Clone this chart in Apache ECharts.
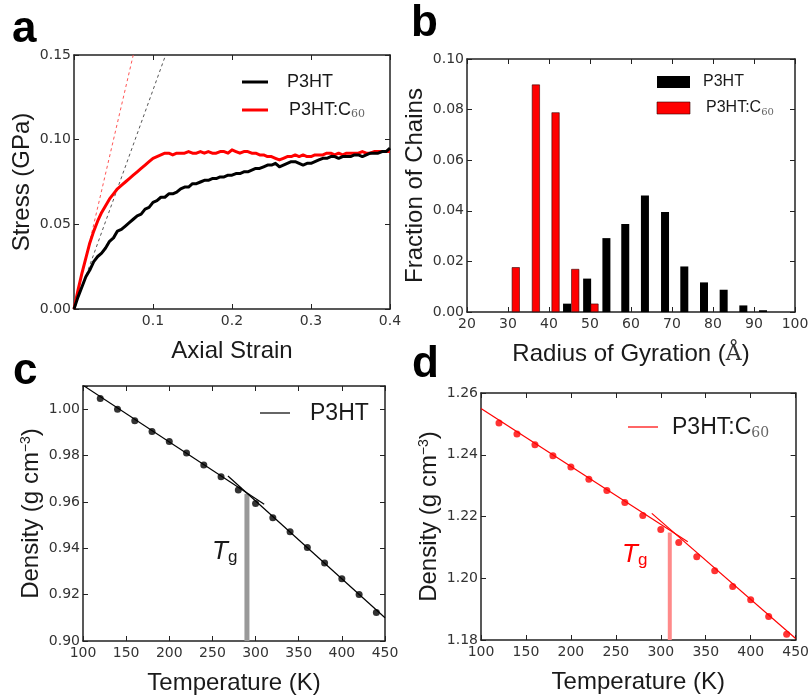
<!DOCTYPE html>
<html>
<head>
<meta charset="utf-8">
<script src="https://cdn.jsdelivr.net/npm/echarts@6/dist/echarts.min.js"></script>
<style>html,body{margin:0;padding:0;background:#fff}#c{width:812px;height:696px}</style>
</head>
<body>
<div id="c"></div>
<script>
// ---- Panel a: stress-strain ----
const strain = [0,0.005,0.01,0.015,0.02,0.025,0.03,0.035,0.04,0.045,0.05,0.055,0.06,0.065,0.07,0.075,0.08,0.085,0.09,0.095,0.10,0.105,0.11,0.115,0.12,0.125,0.13,0.135,0.14,0.145,0.15,0.155,0.16,0.165,0.17,0.175,0.18,0.185,0.19,0.195,0.20,0.205,0.21,0.215,0.22,0.225,0.23,0.235,0.24,0.245,0.25,0.255,0.26,0.265,0.27,0.275,0.28,0.285,0.29,0.295,0.30,0.305,0.31,0.315,0.32,0.325,0.33,0.335,0.34,0.345,0.35,0.355,0.36,0.365,0.37,0.375,0.38,0.385,0.39,0.395,0.40];
const stressP3HT = [0,0.007,0.013,0.019,0.023,0.028,0.031,0.033,0.036,0.040,0.042,0.046,0.047,0.049,0.051,0.053,0.055,0.056,0.059,0.060,0.063,0.064,0.066,0.066,0.068,0.068,0.069,0.071,0.072,0.072,0.074,0.074,0.075,0.076,0.076,0.077,0.077,0.078,0.078,0.079,0.079,0.080,0.080,0.081,0.081,0.082,0.083,0.083,0.084,0.085,0.085,0.086,0.084,0.085,0.086,0.087,0.087,0.086,0.085,0.086,0.086,0.087,0.088,0.089,0.089,0.090,0.090,0.089,0.090,0.090,0.090,0.091,0.091,0.090,0.091,0.092,0.092,0.092,0.093,0.093,0.095];
const stressC60 = [0,0.011,0.021,0.030,0.039,0.046,0.052,0.057,0.061,0.065,0.068,0.071,0.073,0.075,0.077,0.079,0.081,0.083,0.085,0.087,0.089,0.090,0.091,0.092,0.092,0.091,0.092,0.092,0.092,0.093,0.092,0.092,0.093,0.092,0.093,0.092,0.092,0.093,0.093,0.092,0.094,0.093,0.092,0.093,0.093,0.092,0.092,0.091,0.091,0.090,0.090,0.089,0.088,0.089,0.090,0.090,0.091,0.090,0.091,0.090,0.090,0.091,0.091,0.091,0.092,0.092,0.091,0.092,0.091,0.092,0.092,0.092,0.092,0.093,0.092,0.092,0.093,0.093,0.093,0.093,0.093];
const slopeLineP3HT = [[0,0],[0.116,0.15]];
const slopeLineC60 = [[0,0],[0.075,0.15]];

// ---- Panel b: radius of gyration histogram ----
const rgP3HT = [44.4,49.3,54.0,58.6,63.4,68.3,73.0,77.8,82.6,87.4,92.2];
const fracP3HT = [0.0033,0.0132,0.0292,0.0348,0.046,0.0395,0.018,0.0117,0.0088,0.0026,0.0007];
const rgC60 = [31.9,36.8,41.6,46.4,51.1];
const fracC60 = [0.0177,0.0899,0.0789,0.017,0.0033];

// ---- Panels c, d: density vs temperature ----
const temps = [120,140,160,180,200,220,240,260,280,300,320,340,360,380,400,420,440];
const densP3HT = [1.0046,1.0000,0.9950,0.9904,0.9861,0.9811,0.9759,0.9709,0.9651,0.9593,0.9532,0.9471,0.9403,0.9337,0.9268,0.9201,0.9123];
const densC60 = [1.2503,1.2467,1.2432,1.2397,1.2360,1.2321,1.2284,1.2245,1.2203,1.2158,1.2116,1.2070,1.2024,1.1973,1.1930,1.1876,1.1819];
const fitGlassP3HT = [[100,1.0103],[310,0.9590]];
const fitRubberP3HT = [[268,0.9712],[450,0.9100]];
const fitGlassC60 = [[100,1.2550],[330,1.2118]];
const fitRubberC60 = [[290,1.2210],[450,1.1805]];
const tgP3HT = 290, tgP3HTTop = 0.9635;
const tgC60 = 310, tgC60Top = 1.2148;

const tickFont = {fontFamily:'DejaVu Sans', fontSize:14, color:'#333'};
const nameFont = {fontFamily:'Liberation Sans', fontSize:24, color:'#1a1a1a'};
const lineSt = {lineStyle:{color:'#222', width:1.5}};

function mkX(grid, min, max, interval, name, gap, fmt, extra) {
  return [
    Object.assign({type:'value', gridIndex:grid, min, max, interval, position:'bottom',
      name, nameLocation:'middle', nameGap:gap, nameTextStyle:Object.assign({}, nameFont, extra||{}),
      axisLine:Object.assign({show:true, onZero:false}, lineSt),
      axisTick:{show:true, inside:true, length:5, lineStyle:{color:'#222', width:1}},
      axisLabel:Object.assign({margin:5, formatter:fmt}, tickFont),
      splitLine:{show:false}}),
    {type:'value', gridIndex:grid, min, max, interval, position:'top',
      axisLine:Object.assign({show:true, onZero:false}, lineSt),
      axisTick:{show:true, inside:true, length:5, lineStyle:{color:'#222', width:1}},
      axisLabel:{show:false}, splitLine:{show:false}}
  ];
}
function mkY(grid, min, max, interval, name, gap, fmt, extra) {
  return [
    Object.assign({type:'value', gridIndex:grid, min, max, interval, position:'left',
      name, nameLocation:'middle', nameGap:gap, nameTextStyle:Object.assign({}, nameFont, extra||{}),
      axisLine:Object.assign({show:true, onZero:false}, lineSt),
      axisTick:{show:true, inside:true, length:5, lineStyle:{color:'#222', width:1}},
      axisLabel:Object.assign({margin:3, formatter:fmt}, tickFont),
      splitLine:{show:false}}),
    {type:'value', gridIndex:grid, min, max, interval, position:'right',
      axisLine:Object.assign({show:true, onZero:false}, lineSt),
      axisTick:{show:true, inside:true, length:5, lineStyle:{color:'#222', width:1}},
      axisLabel:{show:false}, splitLine:{show:false}}
  ];
}
const f2 = v => v.toFixed(2);
const supRich = {rich:{sup:{fontFamily:'Liberation Sans', fontSize:14, color:'#1a1a1a', verticalAlign:'top', padding:[0,0,10,0]}}};

const xAxes = [].concat(
  mkX(0, 0, 0.4, 0.1, 'Axial Strain', 30, v => v === 0 ? '' : v.toFixed(1)),
  mkX(1, 20, 100, 10, 'Radius of Gyration ({s|Å})', 30, v => String(v),
      {rich:{s:{fontFamily:'DejaVu Serif', fontSize:22, color:'#333'}}}),
  mkX(2, 100, 450, 50, 'Temperature (K)', 30, v => String(v)),
  mkX(3, 100, 450, 50, 'Temperature (K)', 30, v => String(v))
);
const yAxes = [].concat(
  mkY(0, 0, 0.15, 0.05, 'Stress (GPa)', 40, f2),
  mkY(1, 0, 0.10, 0.02, 'Fraction of Chains', 40, f2),
  mkY(2, 0.90, 1.01, 0.02, 'Density (g cm{sup|−3})', 40, v => Math.abs(v - 1.01) < 1e-6 ? '' : f2(v), supRich),
  mkY(3, 1.18, 1.26, 0.02, 'Density (g cm{sup|−3})', 40, f2, supRich)
);

const zip = (xs, ys) => xs.map((x, i) => [x, ys[i]]);

const series = [
  // a
  {type:'line', xAxisIndex:0, yAxisIndex:0, data:slopeLineC60, symbol:'none', lineStyle:{color:'#f55', width:1, type:[3,3]}, silent:true},
  {type:'line', xAxisIndex:0, yAxisIndex:0, data:slopeLineP3HT, symbol:'none', lineStyle:{color:'#555', width:1, type:[3,3]}, silent:true},
  {type:'line', name:'P3HT:C60', xAxisIndex:0, yAxisIndex:0, data:zip(strain, stressC60), symbol:'none', lineStyle:{color:'#ff0000', width:3, join:'round'}},
  {type:'line', name:'P3HT', xAxisIndex:0, yAxisIndex:0, data:zip(strain, stressP3HT), symbol:'none', lineStyle:{color:'#000', width:3, join:'round'}},
  // b
  {type:'bar', xAxisIndex:2, yAxisIndex:2, data:zip(rgP3HT, fracP3HT), barWidth:8, itemStyle:{color:'#000'}},
  {type:'bar', xAxisIndex:2, yAxisIndex:2, data:zip(rgC60, fracC60), barWidth:8, barGap:'-100%', itemStyle:{color:'#ff0000', borderColor:'#300', borderWidth:0.6}},
  // c
  {type:'line', xAxisIndex:4, yAxisIndex:4, data:[[tgP3HT,0.90],[tgP3HT,tgP3HTTop]], symbol:'none', lineStyle:{color:'#999', width:5}},
  {type:'line', xAxisIndex:4, yAxisIndex:4, data:fitGlassP3HT, symbol:'none', lineStyle:{color:'#000', width:1.2}},
  {type:'line', xAxisIndex:4, yAxisIndex:4, data:fitRubberP3HT, symbol:'none', lineStyle:{color:'#000', width:1.2}},
  {type:'scatter', xAxisIndex:4, yAxisIndex:4, data:zip(temps, densP3HT), symbol:'circle', symbolSize:7, itemStyle:{color:'#000'}},
  // d
  {type:'line', xAxisIndex:6, yAxisIndex:6, data:[[tgC60,1.18],[tgC60,tgC60Top]], symbol:'none', lineStyle:{color:'#ff8a8a', width:4}},
  {type:'line', xAxisIndex:6, yAxisIndex:6, data:fitGlassC60, symbol:'none', lineStyle:{color:'#ff0000', width:1.2}},
  {type:'line', xAxisIndex:6, yAxisIndex:6, data:fitRubberC60, symbol:'none', lineStyle:{color:'#ff0000', width:1.2}},
  {type:'scatter', xAxisIndex:6, yAxisIndex:6, data:zip(temps, densC60), symbol:'circle', symbolSize:7, itemStyle:{color:'#ff0000'}}
];

const subRich = (size) => ({
  a:{fontFamily:'Liberation Sans', fontSize:size, fill:'#1a1a1a', lineHeight:size+2},
  s:{fontFamily:'DejaVu Serif', fontSize:Math.round(size*0.6), fill:'#666', lineHeight:Math.round(size*0.6), verticalAlign:'bottom'}
});
const tgRich = (color) => ({
  t:{fontFamily:'Liberation Sans', fontStyle:'italic', fontSize:26, fill:color, lineHeight:28},
  g:{fontFamily:'Liberation Sans', fontSize:17, fill:color, lineHeight:17, verticalAlign:'bottom'}
});
const letter = (t, x, y) => ({type:'text', left:x, top:y, style:{text:t, fontFamily:'Liberation Sans', fontWeight:'bold', fontSize:44, fill:'#000'}});

const graphic = [
  letter('a', 12, 8), letter('b', 411, 2), letter('c', 13, 350), letter('d', 412, 343),
  // legend a
  {type:'line', shape:{x1:242,y1:82,x2:268,y2:82}, style:{stroke:'#000', lineWidth:3}},
  {type:'text', x:287, y:82, style:{text:'P3HT', fontFamily:'Liberation Sans', fontSize:18, fill:'#1a1a1a', verticalAlign:'middle'}},
  {type:'line', shape:{x1:242,y1:110,x2:268,y2:110}, style:{stroke:'#ff0000', lineWidth:3}},
  {type:'text', x:289, y:110, style:{text:'{a|P3HT:C}{s|60}', rich:subRich(18), verticalAlign:'middle'}},
  // legend b
  {type:'rect', shape:{x:657,y:76,width:33,height:12}, style:{fill:'#000'}},
  {type:'text', x:703, y:82, style:{text:'P3HT', fontFamily:'Liberation Sans', fontSize:16, fill:'#1a1a1a', verticalAlign:'middle'}},
  {type:'rect', shape:{x:657,y:102,width:33,height:12}, style:{fill:'#ff0000', stroke:'#300', lineWidth:0.6}},
  {type:'text', x:706, y:108, style:{text:'{a|P3HT:C}{s|60}', rich:subRich(16), verticalAlign:'middle'}},
  // legend c
  {type:'line', shape:{x1:260,y1:413,x2:290,y2:413}, style:{stroke:'#000', lineWidth:1.2}},
  {type:'text', x:310, y:414, style:{text:'P3HT', fontFamily:'Liberation Sans', fontSize:23, fill:'#1a1a1a', verticalAlign:'middle'}},
  // legend d
  {type:'line', shape:{x1:628,y1:427,x2:658,y2:427}, style:{stroke:'#ff0000', lineWidth:1.2}},
  {type:'text', x:672, y:428, style:{text:'{a|P3HT:C}{s|60}', rich:subRich(23), verticalAlign:'middle'}},
  // Tg labels
  {type:'text', x:212, y:552, style:{text:'{t|T}{g|g}', rich:tgRich('#1a1a1a'), verticalAlign:'middle'}},
  {type:'text', x:622, y:555, style:{text:'{t|T}{g|g}', rich:tgRich('#ff0000'), verticalAlign:'middle'}}
];

const chart = echarts.init(document.getElementById('c'), null, {renderer:'canvas'});
chart.setOption({
  animation:false,
  backgroundColor:'#fff',
  grid:[
    {left:74, top:55, width:316, height:254},
    {left:467, top:59, width:328, height:253},
    {left:83, top:386, width:302, height:256},
    {left:481, top:393, width:317, height:247}
  ],
  xAxis:xAxes,
  yAxis:yAxes,
  series,
  graphic
});
</script>
</body>
</html>
